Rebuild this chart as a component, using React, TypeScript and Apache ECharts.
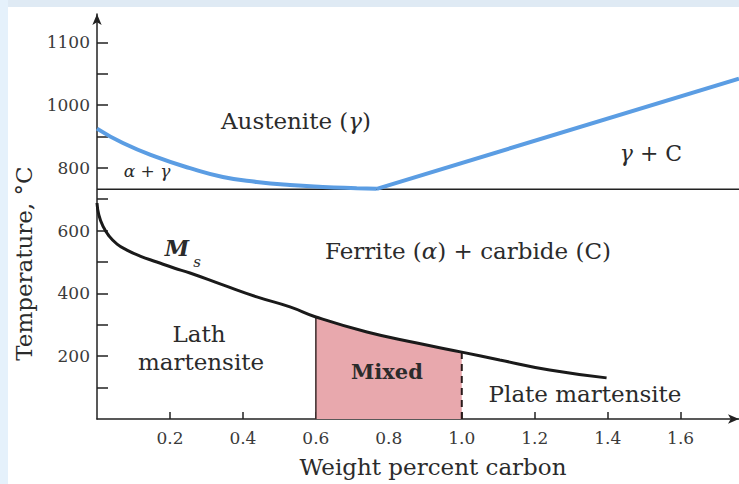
import React, { useEffect, useRef } from "react";
import * as echarts from "echarts";

// ---- data ----
const xTickValues = [0.2, 0.4, 0.6, 0.8, 1.0, 1.2, 1.4, 1.6];
const yTickValues = [100, 200, 300, 400, 500, 600, 700, 800, 900, 1000, 1100, 1200];
const yLabelValues = [200, 400, 600, 800, 1000, 1200];
const yLabelTexts = ["200", "400", "600", "800", "1000", "1100"];

// A3 line (austenite boundary, left of eutectoid)
const a3Curve: [number, number][] = [
  [0, 925], [0.071, 879], [0.164, 834], [0.255, 799], [0.345, 771],
  [0.438, 755], [0.529, 745], [0.619, 739], [0.712, 735], [0.767, 733],
];
// Acm line (right of eutectoid)
const acmLine: [number, number][] = [[0.767, 733], [1.76, 1084]];
// eutectoid isotherm
const eutectoidTemp = 732;
// Ms curve
const msCurve: [number, number][] = [
  [0, 688], [0.005, 650], [0.016, 615], [0.033, 583], [0.055, 557], [0.082, 538],
  [0.118, 519], [0.164, 500], [0.211, 481], [0.255, 465], [0.345, 427],
  [0.438, 389], [0.529, 357], [0.6, 325], [0.74, 277], [0.877, 242],
  [1.0, 213], [1.104, 188], [1.241, 156], [1.397, 131],
];
const mixedFrom = 0.6;
const mixedTo = 1.0;

const FONT = "DejaVu Serif";
const INK = "#2b2b2b";

export default function App() {
  const ref = useRef<HTMLDivElement>(null);
  useEffect(() => {
    if (!ref.current) return;
    const chart = echarts.init(ref.current, undefined, { renderer: "svg" });
    const mixedArea = msCurve.filter((p) => p[0] >= mixedFrom && p[0] <= mixedTo);
    const msAt = (x: number) => (msCurve.find((p) => p[0] === x) as [number, number])[1];
    const txt = (text: string, x: number, y: number, size: number, extra: any = {}) => ({
      type: "text",
      x,
      y,
      z: 10,
      style: {
        text,
        fill: INK,
        fontFamily: FONT,
        fontSize: size,
        fontStyle: extra.fontStyle || "normal",
        fontWeight: extra.fontWeight || "normal",
        align: "center",
        verticalAlign: "middle",
        rich: {
          g: { fontFamily: FONT, fontSize: size, fontStyle: "italic", fill: INK },
        },
      },
    });
    chart.setOption({
      animation: false,
      backgroundColor: "#ffffff",
      grid: { left: 97, right: 0, top: 14, bottom: 65 },
      xAxis: {
        type: "value",
        min: 0,
        max: 1.76,
        interval: 0.2,
        splitLine: { show: false },
        axisLine: {
          lineStyle: { color: "#222", width: 1.5 },
          symbol: ["none", "arrow"],
          symbolSize: [7, 11],
        },
        axisTick: {
          inside: true,
          length: 7,
          lineStyle: { color: "#222", width: 1.5 },
          customValues: xTickValues,
        },
        axisLabel: {
          customValues: xTickValues,
          formatter: (v: number) => v.toFixed(1),
          color: "#3a3a3a",
          fontFamily: FONT,
          fontSize: 17,
          margin: 10,
        },
        name: "Weight percent carbon",
        nameLocation: "middle",
        nameGap: 36,
        nameTextStyle: { fontFamily: FONT, fontSize: 23, color: INK, padding: [0, 0, 0, 30] },
      },
      yAxis: {
        type: "value",
        min: 0,
        max: 1290,
        interval: 100,
        splitLine: { show: false },
        axisLine: {
          lineStyle: { color: "#222", width: 1.5 },
          symbol: ["none", "arrow"],
          symbolSize: [7, 11],
        },
        axisTick: {
          inside: true,
          length: 11,
          lineStyle: { color: "#222", width: 1.5 },
          customValues: yTickValues,
        },
        axisLabel: {
          customValues: yLabelValues,
          formatter: (v: number) => {
            const i = yLabelValues.indexOf(v);
            return i >= 0 ? yLabelTexts[i] : String(v);
          },
          color: "#3a3a3a",
          fontFamily: FONT,
          fontSize: 17,
          margin: 7,
        },
        name: "Temperature, °C",
        nameLocation: "middle",
        nameGap: 60,
        nameTextStyle: { fontFamily: FONT, fontSize: 23, color: INK, padding: [0, 94, 0, 0] },
      },
      graphic: [
        { type: "rect", z: -5, shape: { x: 0, y: 0, width: 739, height: 7 }, style: { fill: "#dfeaf4" } },
        { type: "rect", z: -5, shape: { x: 0, y: 0, width: 8, height: 484 }, style: { fill: "#e5f1fb" } },
        txt("Austenite ({g|γ})", 296, 121, 23),
        txt("α + γ", 147, 171, 17, { fontStyle: "italic" }),
        txt("{g|γ} + C", 651, 153, 22),
        txt("Ferrite ({g|α}) + carbide (C)", 468, 251, 23),
        txt("M", 177, 248, 22, { fontStyle: "italic", fontWeight: "bold" }),
        txt("s", 197, 262, 15, { fontStyle: "italic" }),
        txt("Lath", 199, 334, 23),
        txt("martensite", 201, 362, 23),
        txt("Mixed", 387, 371, 21, { fontWeight: "bold" }),
        txt("Plate martensite", 585, 394, 23),
      ],
      series: [
        {
          type: "line",
          data: mixedArea,
          smooth: true,
          symbol: "none",
          lineStyle: { width: 0 },
          areaStyle: { color: "#e8a8ad", opacity: 1 },
          z: 1,
        },
        {
          type: "line",
          data: [[mixedFrom, 0], [mixedFrom, msAt(mixedFrom)]],
          symbol: "none",
          lineStyle: { color: "#3a2a2a", width: 1.5 },
          z: 2,
        },
        {
          type: "line",
          data: [[mixedTo, 0], [mixedTo, msAt(mixedTo)]],
          symbol: "none",
          lineStyle: { color: "#2a1a1a", width: 2, type: [7, 5] },
          z: 2,
        },
        {
          type: "line",
          data: msCurve,
          smooth: true,
          symbol: "none",
          lineStyle: { color: "#1a1a1a", width: 3 },
          z: 3,
        },
        {
          type: "line",
          data: [[0, eutectoidTemp], [1.76, eutectoidTemp]],
          symbol: "none",
          lineStyle: { color: "#222", width: 1.5 },
          z: 3,
        },
        {
          type: "line",
          data: a3Curve,
          smooth: true,
          symbol: "none",
          lineStyle: { color: "#5b9de3", width: 4 },
          z: 4,
        },
        {
          type: "line",
          data: acmLine,
          symbol: "none",
          lineStyle: { color: "#5b9de3", width: 4 },
          z: 4,
        },
      ],
    });
    return () => chart.dispose();
  }, []);
  return (
    <div
      ref={ref}
      style={{ position: "absolute", left: 0, top: 0, width: 739, height: 484, background: "#fff" }}
    />
  );
}
